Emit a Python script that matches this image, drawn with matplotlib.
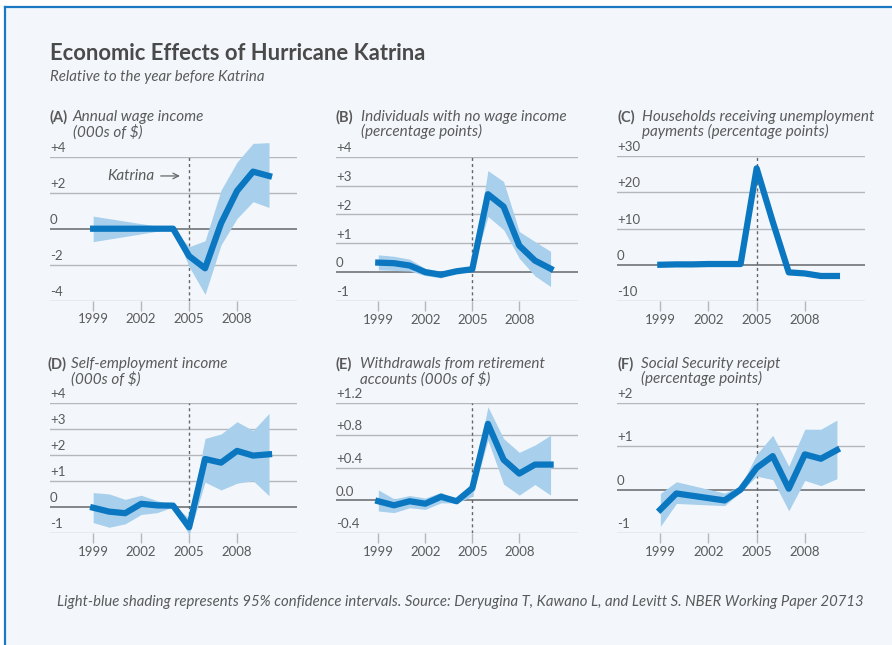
import numpy as np
import matplotlib
matplotlib.use("Agg")
import matplotlib.pyplot as plt
from matplotlib.patches import Rectangle
from matplotlib.lines import Line2D

plt.rcParams['font.family'] = ['Lato', 'DejaVu Sans']

# ---- data ----
years_full = [1999, 2000, 2001, 2002, 2003, 2004, 2005, 2006, 2007, 2008, 2009, 2010]

a_years = [1999, 2004, 2005, 2006, 2007, 2008, 2009, 2010]
a_line = [0.0, 0.0, -1.52, -2.2, 0.3, 2.1, 3.17, 2.93]
a_lo = [-0.72, 0.0, -2.1, -3.65, -0.9, 0.57, 1.5, 1.18]
a_hi = [0.7, 0.0, -1.0, -0.67, 2.15, 3.7, 4.74, 4.78]

b_line = [0.33, 0.31, 0.23, 0.0, -0.09, 0.03, 0.1, 2.7, 2.27, 0.92, 0.4, 0.12]
b_lo = [0.08, 0.06, 0.04, -0.12, -0.2, -0.03, 0.07, 1.93, 1.47, 0.48, -0.13, -0.5]
b_hi = [0.6, 0.55, 0.45, 0.13, 0.02, 0.08, 0.13, 3.52, 3.14, 1.41, 1.06, 0.72]

c_line = [0.0, 0.1, 0.1, 0.2, 0.2, 0.2, 26.6, 11.9, -2.1, -2.4, -3.1, -3.1]
c_lo = [-0.3, -0.2, -0.2, -0.1, -0.1, 0.1, 26.0, 11.3, -2.6, -2.9, -3.6, -3.6]
c_hi = [0.3, 0.4, 0.4, 0.5, 0.5, 0.3, 27.2, 12.5, -1.6, -1.9, -2.6, -2.6]

d_line = [-0.03, -0.18, -0.24, 0.12, 0.06, 0.05, -0.78, 1.84, 1.7, 2.15, 1.97, 2.02]
d_lo = [-0.6, -0.78, -0.65, -0.29, -0.22, 0.0, -1.07, 0.95, 0.65, 0.91, 1.01, 0.43]
d_hi = [0.55, 0.5, 0.29, 0.45, 0.24, 0.08, -0.43, 2.63, 2.8, 3.27, 2.93, 3.59]

e_line = [-0.01, -0.06, -0.01, -0.04, 0.045, -0.01, 0.15, 0.94, 0.5, 0.33, 0.44, 0.44]
e_lo = [-0.13, -0.15, -0.09, -0.11, -0.03, -0.03, 0.05, 0.74, 0.2, 0.065, 0.195, 0.065]
e_hi = [0.13, 0.02, 0.06, 0.03, 0.1, 0.01, 0.22, 1.15, 0.76, 0.59, 0.68, 0.8]

f_years = [1999, 2000, 2003, 2004, 2005, 2006, 2007, 2008, 2009, 2010]
f_line = [-0.46, -0.09, -0.25, 0.0, 0.5, 0.77, 0.02, 0.81, 0.71, 0.91]
f_lo = [-0.85, -0.32, -0.37, -0.06, 0.31, 0.23, -0.49, 0.21, 0.09, 0.25]
f_hi = [-0.09, 0.18, -0.08, 0.08, 0.81, 1.25, 0.54, 1.39, 1.39, 1.6]

year_ticks = [1999, 2002, 2005, 2008]

a_ticks = [-4, -2, 0, 2, 4]
a_labels = ['-4', '-2', '0', '+2', '+4']
b_ticks = [-1, 0, 1, 2, 3, 4]
b_labels = ['-1', '0', '+1', '+2', '+3', '+4']
c_ticks = [-10, 0, 10, 20, 30]
c_labels = ['-10', '0', '+10', '+20', '+30']
d_ticks = [-1, 0, 1, 2, 3, 4]
d_labels = ['-1', '0', '+1', '+2', '+3', '+4']
e_ticks = [-0.4, 0.0, 0.4, 0.8, 1.2]
e_labels = ['-0.4', '0.0', '+0.4', '+0.8', '+1.2']
f_ticks = [-1, 0, 1, 2]
f_labels = ['-1', '0', '+1', '+2']

# colours
BG = '#f3f7fb'
LINE = '#0b77c0'
BAND = '#a8d0ec'
GRID = '#b4b8bc'
ZERO = '#707478'
TXT = '#5a5a5a'
BORDER = '#1b78c2'

W, H = 892, 645
fig = plt.figure(figsize=(W / 100, H / 100), dpi=100, facecolor='white')

# light card with blue border on the top and left
fig.patches.append(Rectangle((5 / W, 0), 1, 1 - 7 / H, transform=fig.transFigure,
                             facecolor=BG, lw=0, zorder=-5))
fig.lines.append(Line2D([5 / W, 5 / W], [0, 1 - 7 / H], transform=fig.transFigure,
                        color=BORDER, lw=1.6, zorder=-4))
fig.lines.append(Line2D([5 / W, 1], [1 - 7 / H, 1 - 7 / H], transform=fig.transFigure,
                        color=BORDER, lw=1.6, zorder=-4))


def px_axes(x0, y_top, x1, y_bot):
    return fig.add_axes([x0 / W, 1 - y_bot / H, (x1 - x0) / W, (y_bot - y_top) / H])


def panel(ax, years, line, lo, hi, ticks, labels):
    ax.set_facecolor('none')
    for s in ax.spines.values():
        s.set_visible(False)
    ax.set_xlim(1996.3, 2011.75)
    ax.set_ylim(ticks[0], ticks[-1])
    for t in ticks:
        ax.axhline(t, color=ZERO if t == 0 else GRID, lw=1.2 if t == 0 else 1.0, zorder=1)
    for t, lb in zip(ticks, labels):
        ax.annotate(lb, (0, t), xycoords=ax.get_yaxis_transform(), xytext=(0, 2),
                    textcoords='offset points', va='bottom', ha='left', fontsize=9.5, color=TXT)
    ax.plot([2005, 2005], [ticks[0], ticks[-1]], color='#666666', lw=1, dashes=(2.2, 2.2), zorder=2)
    ax.fill_between(years, lo, hi, color=BAND, lw=0, zorder=3, clip_on=False)
    ax.plot(years, line, color=LINE, lw=4.5, zorder=4, clip_on=False)
    ax.set_yticks([])
    ax.set_xticks(year_ticks)
    ax.set_xticklabels([str(y) for y in year_ticks])
    ax.tick_params(axis='x', length=7, width=1, color=GRID, pad=2, labelsize=9.5, labelcolor=TXT)


def heading(x, y, letter, dx, text):
    fig.text(x / W, 1 - y / H, letter, fontsize=10.5, fontweight='bold', color=TXT, va='top', ha='left')
    fig.text((x + dx) / W, 1 - y / H, text, fontsize=11, style='italic', color=TXT,
             va='top', ha='left', linespacing=1.0)


ax_a = px_axes(50, 156.7, 297, 300.7)
panel(ax_a, a_years, a_line, a_lo, a_hi, a_ticks, a_labels)
ax_a.annotate('', xy=(2004.6, 2.93), xytext=(2003.05, 2.93),
              arrowprops=dict(arrowstyle='->', color='#666666', lw=0.9))
ax_a.text(2002.85, 2.93, 'Katrina', style='italic', fontsize=11, color=TXT, ha='right', va='center')

ax_b = px_axes(336, 156.7, 578, 301)
panel(ax_b, years_full, b_line, b_lo, b_hi, b_ticks, b_labels)

ax_c = px_axes(617, 156, 865, 301)
panel(ax_c, years_full, c_line, c_lo, c_hi, c_ticks, c_labels)

ax_d = px_axes(50, 402.7, 297, 533)
panel(ax_d, years_full, d_line, d_lo, d_hi, d_ticks, d_labels)

ax_e = px_axes(336, 402.7, 578, 533)
panel(ax_e, years_full, e_line, e_lo, e_hi, e_ticks, e_labels)

ax_f = px_axes(617, 402.7, 865, 533)
panel(ax_f, f_years, f_line, f_lo, f_hi, f_ticks, f_labels)

heading(50, 110, '(A)', 23, 'Annual wage income\n(000s of $)')
heading(336, 110, '(B)', 25, 'Individuals with no wage income\n(percentage points)')
heading(617, 110, '(C)', 25, 'Households receiving unemployment\npayments (percentage points)')
heading(47, 357, '(D)', 24, 'Self-employment income\n(000s of $)')
heading(336, 357, '(E)', 24, 'Withdrawals from retirement\naccounts (000s of $)')
heading(617, 357, '(F)', 24, 'Social Security receipt\n(percentage points)')

fig.text(50 / W, 1 - 53 / H, 'Economic Effects of Hurricane Katrina', fontsize=15.8, fontweight='bold',
         color='#4a4a4a', va='center', ha='left')
fig.text(50 / W, 1 - 77 / H, 'Relative to the year before Katrina', fontsize=10.85, style='italic',
         color=TXT, va='center', ha='left')
fig.text(57 / W, 1 - 602 / H,
         'Light-blue shading represents 95% confidence intervals. Source: Deryugina T, Kawano L, '
         'and Levitt S. NBER Working Paper 20713',
         fontsize=10.75, style='italic', color=TXT, va='center', ha='left')

fig.savefig('out.png', dpi=100, facecolor='white')
